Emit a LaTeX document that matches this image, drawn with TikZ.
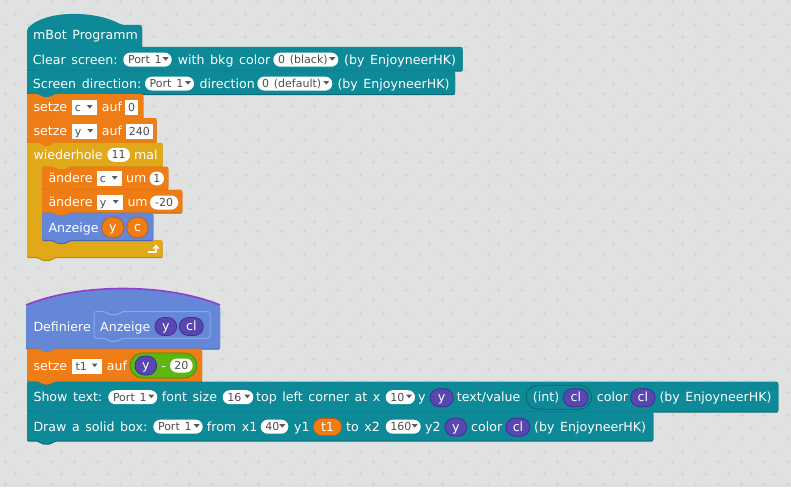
\documentclass[tikz,border=0pt]{standalone}
\usepackage{fontspec}
\setmainfont{DejaVu Sans}[WordSpace=1.4]
\newcommand\lblfont{\fontsize{12.6}{15}\selectfont}
\newcommand\pillfont{\fontsize{11}{13}\selectfont}
\definecolor{bgc}{RGB}{224,226,226}
\definecolor{crossc}{RGB}{211,213,213}
\definecolor{tealb}{RGB}{14,137,152}
\definecolor{tealbdk}{RGB}{8,102,114}
\definecolor{orab}{RGB}{238,125,22}
\definecolor{orabdk}{RGB}{190,96,12}
\definecolor{goldb}{RGB}{225,169,26}
\definecolor{goldbdk}{RGB}{184,134,14}
\definecolor{blueb}{RGB}{100,135,215}
\definecolor{bluebdk}{RGB}{70,100,175}
\definecolor{purpb}{RGB}{89,71,177}
\definecolor{purpbdk}{RGB}{62,48,140}
\definecolor{greenb}{RGB}{92,183,18}
\definecolor{greenbdk}{RGB}{68,140,10}
\definecolor{hatline}{RGB}{150,60,205}
\definecolor{protoline}{RGB}{140,168,232}
\definecolor{inktxt}{RGB}{77,77,77}
\definecolor{tric}{RGB}{90,90,90}
% command block
\newcommand\cmdfill[6]{\fill[#1,rounded corners=2pt,yshift=#2pt] (#3,#4) -- ({#3+12},#4) -- ({#3+15},{#4+3}) -- ({#3+24},{#4+3}) -- ({#3+27},#4) -- (#5,#4) -- (#5,#6) -- ({#3+27},#6) -- ({#3+24},{#6+3}) -- ({#3+15},{#6+3}) -- ({#3+12},#6) -- (#3,#6) -- cycle;}
\newcommand\cmdblk[5]{\cmdfill{#1dk}{-1.2}{#2}{#3}{#4}{#5}\cmdfill{#1}{0}{#2}{#3}{#4}{#5}}
% label
\newcommand\lbl[4]{\node[lbl] (#1) at (#2,#3) {#4};}
% dropdown pill
\newcommand\ddp[5]{\fill[white,rounded corners=7pt] (#2,{#4-7}) rectangle (#3,{#4+7});
 \node[ptx,anchor=base west] (#1) at ({#2+4.5},{#4+4}) {#5};
 \fill[tric] ({#3-9},{#4-2.5}) -- ({#3-3},{#4-2.5}) -- ({#3-6},{#4+1}) -- cycle;}
% dropdown box
\newcommand\ddb[5]{\fill[white] (#2,{#4-7.5}) rectangle (#3,{#4+7.5});
 \node[ptx,anchor=base west] (#1) at ({#2+3},{#4+4}) {#5};
 \fill[tric] ({#3-10},{#4-2.5}) -- ({#3-4},{#4-2.5}) -- ({#3-7},{#4+1}) -- cycle;}
% number pill
\newcommand\nump[5]{\fill[white,rounded corners=7pt] (#2,{#4-7}) rectangle (#3,{#4+7});
 \node[ptx,anchor=base] (#1) at ({(#2+#3)/2},{#4+4}) {#5};}
% string box
\newcommand\strb[5]{\fill[white] (#2,{#4-7.5}) rectangle (#3,{#4+7.5});
 \node[ptx,anchor=base] (#1) at ({(#2+#3)/2},{#4+4}) {#5};}
% reporter
\newcommand\rep[7]{\filldraw[fill=#2,draw=#2dk,line width=0.8pt,rounded corners=#6pt] (#3,{#5-#6}) rectangle (#4,{#5+#6});
 \node[rtx] (#1) at ({(#3+#4)/2},{#5+4}) {#7};}
\begin{document}
\begin{tikzpicture}[x=1pt,y=-1pt,
  lbl/.style={text=white,font=\lblfont,inner sep=0pt,anchor=base west},
  ptx/.style={text=inktxt,font=\pillfont,inner sep=0pt},
  rtx/.style={text=white,font=\lblfont,inner sep=0pt,anchor=base},
  crossln/.style={crossc,line width=0.8pt}]
\useasboundingbox (0,0) rectangle (791,487);
\fill[bgc] (0,0) rectangle (791,487);
\foreach \i in {0,...,34}{\foreach \j in {0,...,21}{%
 \draw[crossln] ({5+23*\i},{1.3+23*\j}) +(-2.5,0) -- +(2.5,0) +(0,-2.5) -- +(0,2.5);
 \draw[crossln] ({15.3+23*\i},{14+23*\j}) +(-2.5,0) -- +(2.5,0) +(0,-2.5) -- +(0,2.5);}}

% ---------- hat mBot ----------
\fill[tealbdk,rounded corners=2pt,yshift=-1.2pt] (27,29) .. controls (45,10) and (95,10) .. (122,25) -- (142,25) -- (142,47) -- (54,47) -- (51,50) -- (42,50) -- (39,47) -- (27,47) -- cycle;
\fill[tealb,rounded corners=2pt] (27,29) .. controls (45,10) and (95,10) .. (122,25) -- (142,25) -- (142,47) -- (54,47) -- (51,50) -- (42,50) -- (39,47) -- (27,47) -- cycle;
\lbl{hatT}{33}{39.5}{mBot Programm}

% ---------- Clear screen ----------
\cmdblk{tealb}{27}{47}{462.7}{70.5}
\lbl{csA}{32.7}{64.3}{Clear screen:}
\ddp{csP}{123.3}{171.7}{59.7}{Port 1}
\lbl{csB}{177.7}{64.3}{with bkg color}
\ddp{csC}{273.3}{338.3}{59.7}{0 (black)}
\lbl{csD}{344}{64.3}{(by EnjoyneerHK)}

% ---------- Screen direction ----------
\cmdblk{tealb}{27}{70.5}{455}{94}
\lbl{sdA}{32.7}{88.2}{Screen direction:}
\ddp{sdP}{145}{194}{83.6}{Port 1}
\lbl{sdB}{199.3}{88.2}{direction}
\ddp{sdC}{257.3}{332.3}{83.6}{0 (default)}
\lbl{sdD}{337.3}{88.2}{(by EnjoyneerHK)}

% ---------- setze c ----------
\cmdblk{orab}{27}{94}{143.3}{118}
\lbl{scA}{33.3}{111.7}{setze}
\ddb{scV}{71.7}{96.7}{107.5}{c}
\lbl{scB}{101.7}{111.7}{auf}
\strb{scN}{125}{138.3}{107.5}{0}

% ---------- setze y ----------
\cmdblk{orab}{27}{118}{156.7}{142.5}
\lbl{syA}{33.3}{135.7}{setze}
\ddb{syV}{71.7}{97.3}{131.5}{y}
\lbl{syB}{101.7}{135.7}{auf}
\strb{syN}{126}{152.7}{131.5}{240}

% ---------- wiederhole ----------
\fill[goldbdk,rounded corners=2pt,yshift=-1.2pt] (27,142.5) -- (39,142.5) -- (42,145.5) -- (51,145.5) -- (54,142.5) -- (162.7,142.5) -- (162.7,166.5) -- (69,166.5) -- (66,169.5) -- (57,169.5) -- (54,166.5) -- (42,166.5) -- (42,240) -- (54,240) -- (57,243) -- (66,243) -- (69,240) -- (162.7,240) -- (162.7,257) -- (54,257) -- (51,260) -- (42,260) -- (39,257) -- (27,257) -- cycle;
\fill[goldb,rounded corners=2pt] (27,142.5) -- (39,142.5) -- (42,145.5) -- (51,145.5) -- (54,142.5) -- (162.7,142.5) -- (162.7,166.5) -- (69,166.5) -- (66,169.5) -- (57,169.5) -- (54,166.5) -- (42,166.5) -- (42,240) -- (54,240) -- (57,243) -- (66,243) -- (69,240) -- (162.7,240) -- (162.7,257) -- (54,257) -- (51,260) -- (42,260) -- (39,257) -- (27,257) -- cycle;
\lbl{whA}{33.3}{159}{wiederhole}
\nump{whN}{107.3}{130}{154.8}{11}
\lbl{whB}{134}{159}{mal}

% ---------- aendere c ----------
\cmdblk{orab}{42}{166.5}{168.3}{189.5}
\lbl{acA}{48.3}{182.3}{ändere}
\ddb{acV}{96.7}{121.7}{178.5}{c}
\lbl{acB}{126}{182.3}{um}
\nump{acN}{149.5}{164}{178.5}{1}

% ---------- aendere y ----------
\cmdblk{orab}{42}{189.5}{182.3}{212.5}
\lbl{ayA}{48.3}{206.7}{ändere}
\ddb{ayV}{96.7}{122.7}{202.5}{y}
\lbl{ayB}{127.3}{206.7}{um}
\nump{ayN}{150}{178.3}{202.5}{-20}

% ---------- Anzeige ----------
\cmdblk{blueb}{42}{212.5}{153.3}{240}
\lbl{anA}{48.3}{232.3}{Anzeige}
\rep{anY}{orab}{101.7}{124}{227.5}{10.5}{y}
\rep{anC}{orab}{126.7}{148.3}{227.5}{10.5}{c}

% loop arrow
\draw[white,line width=2pt] (147.5,251.5) -- (156,251.5) -- (156,248.5);
\fill[white] (152.5,248.5) -- (159.5,248.5) -- (156,244.5) -- cycle;

% ---------- Definiere hat ----------
\fill[bluebdk,rounded corners=2pt,yshift=-1.2pt] (26,305) .. controls (80,283) and (166,283) .. (220,305) -- (220,348.5) -- (54,348.5) -- (51,351.5) -- (42,351.5) -- (39,348.5) -- (26,348.5) -- cycle;
\fill[blueb,rounded corners=2pt] (26,305) .. controls (80,283) and (166,283) .. (220,305) -- (220,348.5) -- (54,348.5) -- (51,351.5) -- (42,351.5) -- (39,348.5) -- (26,348.5) -- cycle;
\draw[hatline,line width=1.6pt] (26,305) .. controls (80,283) and (166,283) .. (220,305);
\lbl{dfA}{33.3}{331.7}{Definiere}
\draw[protoline,line width=1pt,rounded corners=2pt] (94,311.7) -- (106,311.7) -- (109,314.7) -- (118,314.7) -- (121,311.7) -- (210,311.7) -- (210,338.3) -- (121,338.3) -- (118,341.3) -- (109,341.3) -- (106,338.3) -- (94,338.3) -- cycle;
\lbl{dfB}{100}{331.7}{Anzeige}
\rep{dfY}{purpb}{155}{176.7}{326.5}{9}{y}
\rep{dfC}{purpb}{179.3}{203.3}{326.5}{9}{cl}

% ---------- setze t1 ----------
\cmdblk{orab}{27}{348.5}{202}{381.5}
\lbl{stA}{33.3}{370}{setze}
\ddb{stV}{72.3}{101.7}{366}{t1}
\lbl{stB}{106.7}{370}{auf}
\rep{stG}{greenb}{130}{197}{365.5}{12.5}{}
\rep{stY}{purpb}{135}{156.7}{365.5}{9.5}{y}
\lbl{stM}{161.2}{370}{-}
\nump{stN}{170}{192.7}{365.5}{20}

% ---------- Show text ----------
\cmdblk{tealb}{27}{381.5}{778.3}{411.5}
\lbl{shA}{33.3}{401.7}{Show text:}
\ddp{shP}{108.3}{157.3}{397.2}{Port 1}
\lbl{shB}{161.7}{401.7}{font size}
\ddp{shF}{222.7}{253.3}{397.2}{16}
\lbl{shC}{256}{401.7}{top left corner at x}
\ddp{shX}{385.7}{415}{397.2}{10}
\lbl{shD}{418}{401.7}{y}
\rep{shY}{purpb}{430}{453.3}{397.7}{9}{y}
\lbl{shE}{456.7}{401.7}{text/value}
\rep{shI}{tealb}{526}{591.7}{397.2}{12}{}
\lbl{shIt}{532.7}{401.7}{(int)}
\rep{shL}{purpb}{563.3}{588.3}{397.7}{9}{cl}
\lbl{shG}{596.7}{401.7}{color}
\rep{shK}{purpb}{630.7}{655}{397.7}{9}{cl}
\lbl{shH}{659.3}{401.7}{(by EnjoyneerHK)}

% ---------- Draw a solid box ----------
\cmdblk{tealb}{27}{411.5}{653.3}{440.5}
\lbl{dbA}{33.3}{431}{Draw a solid box:}
\ddp{dbP}{153.3}{202.7}{426.7}{Port 1}
\lbl{dbB}{206.7}{431}{from x1}
\ddp{dbX}{260.7}{288.3}{426.7}{40}
\lbl{dbC}{294}{431}{y1}
\rep{dbT}{orab}{313.3}{341.7}{427}{8.5}{t1}
\lbl{dbD}{346}{431}{to x2}
\ddp{dbW}{385.7}{420.7}{426.7}{160}
\lbl{dbE}{425}{431}{y2}
\rep{dbY}{purpb}{445}{466.7}{427.2}{9}{y}
\lbl{dbF}{471}{431}{color}
\rep{dbL}{purpb}{506}{530}{427.2}{9}{cl}
\lbl{dbG}{534}{431}{(by EnjoyneerHK)}
\end{tikzpicture}
\end{document}
